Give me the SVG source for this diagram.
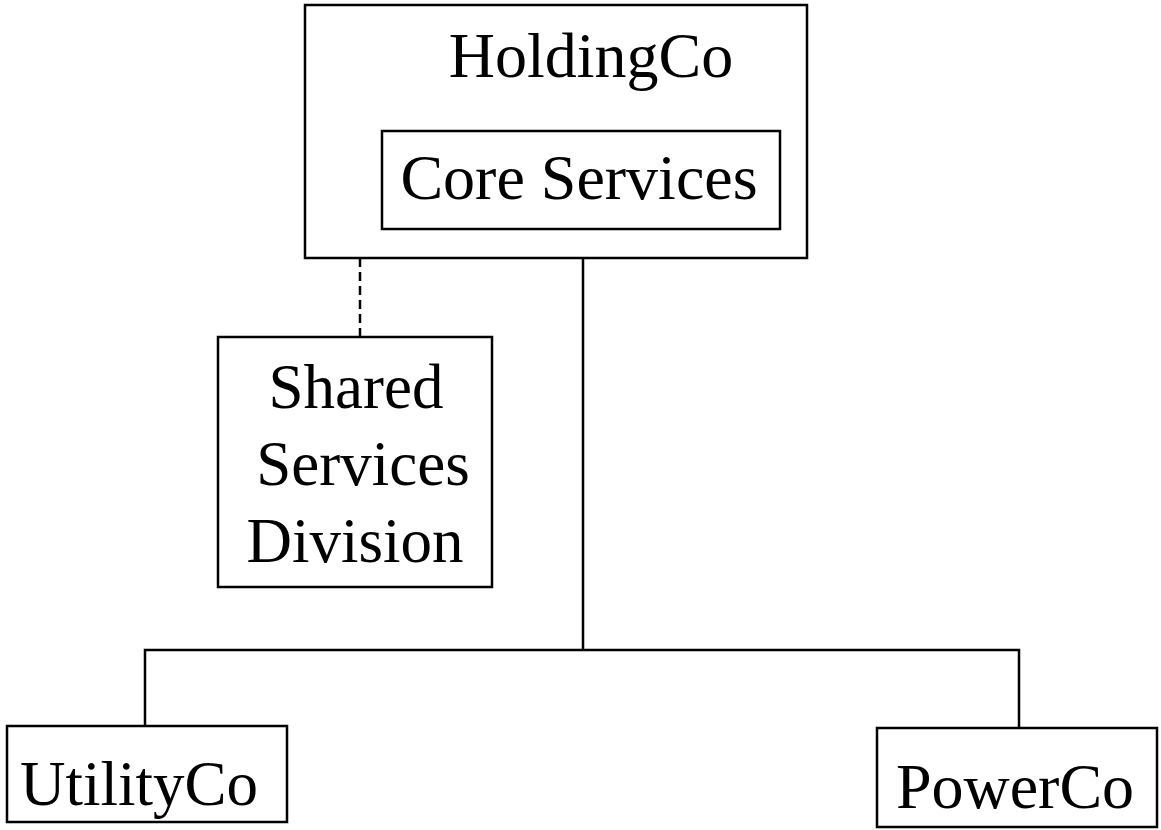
<svg xmlns="http://www.w3.org/2000/svg" width="1161" height="830" viewBox="0 0 1161 830">
<style>
.box{fill:#fff;stroke:#000;stroke-width:2.5}
.ln{fill:none;stroke:#000;stroke-width:2.5}
.dash{stroke-dasharray:9 5}
text{font-family:"Liberation Serif","Times New Roman",serif;font-size:64px;fill:#000;text-anchor:middle}
</style>
<rect width="1161" height="830" fill="#fff"/>
<g id="connectors">
<line class="ln dash" x1="360" y1="258" x2="360" y2="337"/>
<line class="ln" x1="583" y1="258" x2="583" y2="650"/>
<polyline class="ln" points="145,726 145,650 1019,650 1019,728"/>
</g>
<g id="holdingco">
<rect class="box" x="305" y="5" width="502" height="253"/>
<text x="591" y="77">HoldingCo</text>
</g>
<g id="core-services">
<rect class="box" x="382" y="131" width="398" height="98"/>
<text x="579" y="199">Core Services</text>
</g>
<g id="shared-services">
<rect class="box" x="218" y="337" width="274" height="250"/>
<text x="356" y="408" style="font-size:63px">Shared</text>
<text x="363" y="485" style="font-size:63px">Services</text>
<text x="355" y="562" style="font-size:63px">Division</text>
</g>
<g id="utilityco">
<rect class="box" x="7" y="726" width="280" height="96"/>
<text x="139" y="805" style="font-size:63px">UtilityCo</text>
</g>
<g id="powerco">
<rect class="box" x="877" y="728" width="280" height="99"/>
<text x="1015" y="808">PowerCo</text>
</g>
</svg>
